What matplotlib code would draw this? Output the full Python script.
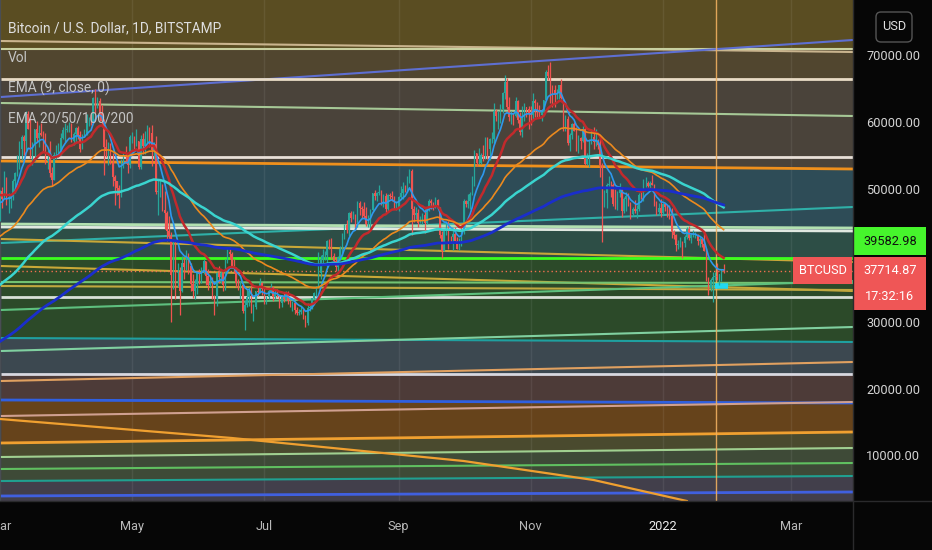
"""Bitcoin / U.S. Dollar daily chart with EMAs and drawn levels, TradingView style."""

import numpy as np
import pandas as pd
import matplotlib
matplotlib.use("Agg")
import matplotlib.pyplot as plt
import matplotlib.dates as mdates
from matplotlib import font_manager
from matplotlib.lines import Line2D
from matplotlib.patches import Rectangle, FancyBboxPatch
from matplotlib.transforms import IdentityTransform

# ---------------- candles (thousand USD), one list per month ----------------
month_starts = ["2021-03-01", "2021-04-01", "2021-05-01", "2021-06-01", "2021-07-01", "2021-08-01",
                "2021-09-01", "2021-10-01", "2021-11-01", "2021-12-01", "2022-01-01"]
first_open = 45.16

closes = [
    [49.6, 48.4, 50.4, 48.4, 48.8, 48.9, 51.2, 52.4, 54.9, 55.9, 57.8, 57.2, 61.2, 59.0, 55.6, 56.9,
     58.9, 57.6, 58.3, 58.1, 57.4, 54.1, 54.4, 52.3, 51.3, 55.1, 55.8, 55.8, 57.6, 58.8, 58.8],
    [59.0, 59.0, 57.1, 58.2, 59.1, 58.0, 56.0, 58.1, 58.1, 59.8, 59.9, 59.8, 63.6, 62.9, 63.2, 61.4,
     60.1, 56.2, 55.7, 56.5, 53.8, 51.7, 51.1, 50.1, 49.1, 54.0, 55.0, 54.8, 53.6, 57.7],
    [57.8, 56.6, 57.2, 53.2, 57.5, 56.4, 57.4, 58.9, 58.3, 55.8, 56.7, 49.5, 49.7, 49.9, 46.8, 46.4,
     43.6, 42.9, 37.0, 40.8, 37.3, 37.5, 34.7, 38.8, 38.3, 39.3, 38.4, 35.7, 34.6, 35.7, 37.3],
    [36.7, 37.6, 39.2, 36.9, 35.5, 35.8, 33.6, 33.4, 37.4, 36.7, 37.3, 35.5, 39.1, 40.5, 40.2, 38.3,
     38.1, 35.8, 35.5, 35.6, 31.7, 32.5, 33.7, 34.7, 31.6, 32.2, 34.7, 34.5, 35.9, 35.0],
    [33.5, 33.8, 34.7, 35.3, 33.7, 34.2, 33.8, 32.9, 33.8, 33.5, 34.3, 33.1, 32.7, 32.8, 31.8, 31.4,
     31.5, 31.8, 30.8, 29.8, 32.1, 32.3, 33.6, 34.3, 35.4, 37.3, 39.5, 40.0, 40.0, 42.2, 41.6],
    [39.9, 39.2, 38.2, 39.7, 40.9, 42.8, 44.6, 43.8, 46.3, 45.6, 45.6, 44.4, 47.8, 47.1, 47.0, 45.9,
     44.7, 44.7, 46.8, 49.3, 48.9, 49.3, 49.5, 47.7, 48.9, 47.0, 49.1, 48.9, 48.8, 47.0, 47.1],
    [48.8, 49.3, 50.0, 49.9, 51.8, 52.7, 46.9, 46.1, 46.4, 44.9, 45.2, 46.1, 44.9, 47.1, 48.2, 47.8,
     47.3, 48.3, 47.3, 43.0, 40.7, 43.6, 44.9, 42.8, 42.7, 43.2, 42.2, 41.0, 41.5, 43.8],
    [48.1, 47.7, 48.2, 49.2, 51.5, 55.3, 53.8, 53.9, 55.0, 54.7, 57.5, 56.0, 57.4, 57.4, 61.7, 60.9,
     61.5, 62.0, 64.3, 66.0, 62.2, 60.7, 61.3, 60.9, 63.1, 60.3, 58.5, 60.6, 62.3, 61.9, 61.3],
    [61.0, 63.2, 62.9, 61.4, 61.0, 61.5, 63.3, 67.5, 66.9, 64.9, 64.8, 64.2, 64.4, 65.5, 63.6, 60.2,
     60.4, 56.9, 58.1, 59.7, 58.7, 56.3, 57.6, 57.2, 58.9, 53.7, 54.8, 57.3, 57.8, 57.0],
    [57.2, 56.5, 53.6, 49.2, 49.4, 50.6, 50.6, 50.5, 47.7, 47.2, 49.4, 50.1, 46.7, 48.4, 48.9, 47.6,
     46.2, 46.9, 46.7, 46.9, 49.0, 48.6, 50.8, 50.8, 50.4, 50.8, 50.6, 47.6, 46.5, 47.1, 46.3],
    [47.7, 47.3, 46.4, 45.9, 43.5, 43.1, 41.5, 41.7, 41.9, 41.8, 42.7, 43.9, 42.6, 43.1, 43.1, 43.1,
     42.2, 42.4, 41.7, 40.7, 36.5, 35.1, 36.3, 36.7, 36.9, 36.8, 37.2, 37.8, 37.71487],
]
highs = [
    [49.8, 50.3, 52.6, 51.7, 49.4, 49.2, 51.4, 52.5, 55.1, 57.2, 58.1, 58.0, 61.6, 61.7, 60.6, 57.0,
     59.0, 60.1, 59.5, 59.8, 58.6, 58.4, 55.8, 57.2, 53.2, 55.5, 56.6, 56.9, 58.3, 59.2, 59.8],
    [59.5, 60.0, 59.8, 58.5, 59.3, 59.4, 58.6, 58.2, 58.9, 61.2, 60.7, 61.2, 63.8, 64.9, 63.8, 63.6,
     62.5, 60.4, 57.5, 57.0, 56.8, 55.4, 52.1, 51.2, 50.6, 54.4, 55.5, 56.4, 55.1, 58.0],
    [58.5, 57.9, 58.9, 57.2, 58.0, 58.4, 58.7, 59.5, 59.2, 59.6, 57.0, 57.9, 51.3, 51.5, 50.7, 49.7,
     46.6, 45.9, 43.5, 42.5, 42.2, 38.8, 38.2, 39.9, 39.8, 40.8, 40.4, 38.9, 37.2, 36.4, 37.5],
    [37.9, 38.2, 39.5, 39.2, 37.9, 36.8, 36.8, 34.0, 37.5, 38.4, 37.7, 37.5, 39.4, 41.0, 41.3, 40.5,
     39.5, 38.2, 36.5, 36.1, 35.7, 33.3, 34.9, 35.3, 35.5, 32.7, 34.7, 35.3, 36.6, 36.0],
    [35.0, 33.9, 34.9, 35.9, 35.3, 35.0, 35.0, 33.9, 34.1, 34.3, 34.6, 34.6, 33.3, 33.1, 33.2, 32.2,
     31.9, 32.4, 31.9, 31.0, 32.8, 32.6, 33.6, 34.5, 35.4, 40.5, 40.0, 40.9, 40.6, 42.3, 42.4],
    [42.6, 40.4, 39.8, 39.9, 41.4, 43.4, 44.7, 45.3, 46.5, 46.7, 46.7, 46.2, 48.1, 48.1, 47.4, 48.0,
     47.2, 46.0, 47.0, 49.4, 49.8, 49.5, 50.5, 49.8, 49.2, 49.3, 49.2, 49.3, 49.6, 48.9, 48.2],
    [48.9, 50.4, 51.0, 50.6, 51.9, 52.9, 52.9, 47.4, 47.3, 47.0, 45.9, 46.4, 46.9, 47.2, 48.5, 48.5,
     48.0, 48.8, 48.4, 47.3, 43.6, 44.0, 45.0, 45.1, 42.9, 44.0, 44.3, 42.8, 42.6, 44.1],
    [48.5, 48.3, 49.2, 49.5, 51.9, 55.8, 55.3, 56.1, 55.4, 56.5, 57.8, 57.7, 57.6, 58.5, 62.9, 62.0,
     61.7, 62.7, 64.5, 67.0, 66.6, 63.7, 61.7, 61.4, 63.7, 63.3, 61.5, 62.4, 62.9, 62.3, 62.4],
    [62.4, 64.3, 63.5, 63.0, 62.6, 61.6, 63.3, 67.8, 68.5, 69.0, 65.6, 65.5, 65.0, 65.6, 66.4, 63.6,
     61.0, 60.9, 58.4, 59.9, 60.0, 59.3, 58.0, 57.8, 59.4, 59.1, 55.3, 57.5, 58.9, 59.2],
    [59.0, 57.5, 57.6, 53.9, 49.8, 50.9, 51.9, 51.2, 50.8, 50.0, 49.6, 50.8, 50.2, 48.7, 49.5, 49.4,
     48.0, 47.3, 48.3, 47.5, 49.3, 49.6, 51.4, 51.8, 51.2, 51.2, 52.0, 50.7, 48.1, 47.9, 48.5],
    [47.9, 47.9, 47.6, 47.5, 47.1, 43.8, 43.2, 42.3, 42.8, 42.2, 43.0, 44.3, 44.4, 43.4, 43.8, 43.5,
     43.2, 42.7, 42.5, 43.4, 41.1, 36.8, 36.6, 37.5, 37.5, 38.9, 37.2, 38.0, 38.7],
]
lows = [
    [45.1, 47.1, 48.4, 47.5, 46.3, 47.1, 48.3, 49.3, 51.9, 53.0, 54.3, 55.1, 55.8, 58.9, 54.6, 53.6,
     54.2, 57.0, 56.3, 57.9, 55.5, 53.7, 53.0, 51.7, 50.4, 51.3, 54.5, 54.8, 55.0, 57.4, 57.0],
    [58.5, 58.5, 57.0, 56.5, 57.0, 57.5, 55.5, 56.0, 57.7, 58.1, 59.4, 59.5, 59.8, 61.3, 62.1, 60.2,
     59.7, 52.0, 54.8, 53.5, 53.7, 50.4, 47.5, 49.0, 47.1, 48.8, 53.1, 53.9, 52.4, 53.1],
    [56.9, 56.0, 56.4, 53.0, 52.9, 55.2, 55.2, 56.9, 56.2, 53.4, 54.4, 49.2, 46.0, 48.8, 46.6, 43.9,
     42.1, 42.3, 30.0, 35.0, 33.5, 35.2, 31.1, 34.5, 36.4, 37.8, 37.2, 34.7, 33.6, 33.4, 34.2],
    [35.7, 35.9, 37.2, 35.6, 34.8, 35.3, 33.4, 31.0, 32.4, 35.8, 35.9, 34.7, 34.8, 38.8, 39.5, 38.1,
     37.4, 35.2, 34.8, 33.4, 31.3, 28.8, 32.3, 32.4, 31.3, 30.2, 32.0, 33.9, 34.3, 34.0],
    [32.7, 32.7, 33.4, 34.4, 33.2, 33.5, 33.7, 32.1, 32.2, 33.0, 33.3, 32.7, 32.2, 31.6, 31.2, 31.0,
     31.1, 31.2, 30.5, 29.3, 29.5, 31.7, 32.0, 33.4, 33.9, 35.2, 36.5, 38.7, 39.3, 38.3, 41.0],
    [39.4, 38.7, 37.6, 37.5, 39.3, 39.9, 42.5, 43.3, 42.9, 45.0, 45.4, 43.8, 44.2, 46.0, 45.6, 45.6,
     44.4, 44.2, 43.9, 46.7, 48.3, 48.2, 49.0, 47.6, 47.2, 46.4, 46.5, 48.5, 48.2, 46.9, 46.8],
    [46.6, 48.6, 48.4, 49.5, 49.5, 50.9, 43.0, 45.0, 45.5, 44.2, 44.8, 44.7, 43.4, 44.7, 46.7, 47.0,
     46.8, 47.1, 47.0, 42.6, 39.6, 40.6, 43.1, 40.9, 41.9, 40.8, 42.1, 40.9, 40.8, 41.4],
    [43.2, 47.3, 47.1, 46.9, 49.1, 50.4, 53.4, 53.7, 53.7, 54.1, 54.5, 54.5, 54.3, 56.9, 56.9, 60.1,
     58.9, 59.9, 61.3, 63.5, 62.0, 60.1, 59.7, 59.5, 60.7, 59.9, 58.1, 57.8, 60.2, 60.7, 59.0],
    [59.5, 60.1, 60.7, 60.7, 60.7, 60.1, 61.4, 63.3, 66.3, 62.8, 62.3, 62.3, 63.5, 63.4, 63.4, 58.6,
     58.6, 56.5, 55.6, 57.5, 58.6, 55.7, 55.4, 55.9, 57.0, 53.6, 53.6, 53.3, 56.7, 55.9],
    [56.4, 55.9, 51.7, 42.0, 47.3, 47.1, 50.2, 48.7, 47.4, 46.9, 46.8, 48.8, 45.7, 46.4, 46.6, 47.4,
     45.5, 45.9, 46.4, 45.6, 46.6, 48.4, 48.1, 50.3, 50.2, 50.1, 50.5, 47.4, 46.1, 46.0, 45.7],
    [46.2, 46.7, 45.7, 45.5, 42.6, 42.5, 40.6, 41.0, 41.2, 39.6, 41.3, 42.5, 42.3, 41.8, 42.7, 42.6,
     41.5, 41.3, 41.2, 40.6, 36.2, 34.0, 34.6, 33.0, 36.3, 36.3, 35.6, 36.2, 37.3],
]

# EMA settings, seeded with the values read at the left edge of the chart
ema_periods = [9, 20, 50, 100, 200]
ema_seeds = [47500, 49000, 42600, 35300, 26850]
ema_colors = ["#2e98ee", "#c22a2c", "#ec8a1e", "#3ad4cf", "#1a2ecc"]
ema_widths = [1.2, 1.8, 1.2, 1.8, 2.0]

# ---------------- drawn levels (price at left edge, price at right edge) ----------------
band_low_left = [70950, 66450, 54150, 44250, 39583, 27600, 22200, 18300, 11850, 9750, 6150, 0]
band_low_right = [70950, 66450, 52950, 43650, 39583, 27000, 22200, 17850, 13500, 11100, 6900, 0]
band_colors = ["#5a4d22", "#51462f", "#4a433a", "#2e4c57", "#2d4e46", "#2c4a29",
               "#3c4850", "#4d3b38", "#66431b", "#4a4a2e", "#3e4a37", "#423f4b"]

line_left = [72150, 70950, 63750, 66450, 62850, 54750, 54150, 41850, 44700, 44250, 42450, 39583,
             38400, 36000, 35400, 33750, 31800, 27600, 25650, 22200, 21150, 18300, 15900,
             11850, 9750, 7950, 6150, 3900]
line_right = [70500, 70950, 72300, 66450, 60900, 54750, 52950, 47250, 44100, 43650, 39000, 39583,
              34650, 35850, 34800, 33750, 36150, 27000, 29250, 22200, 24000, 17850, 18000,
              13500, 11100, 8850, 6900, 4500]
line_colors = ["#c9b48e", "#c8d0a0", "#5e6fd2", "#e9dcc6", "#a6c896", "#e8e0d8", "#f0901c", "#2fb0a8",
               "#b2e0b0", "#e0e8e0", "#c8a838", "#3cff1e", "#c8a838", "#72c272", "#c0a840", "#d8e0d8",
               "#5ec07e", "#1fa0a0", "#80d0a0", "#d8d8e0", "#e0a060", "#3060e0", "#d0a090",
               "#f0a030", "#a0d090", "#60c060", "#20a090", "#4060e0"]
line_widths = [1.5, 1.5, 1.5, 2, 1.5, 2, 2, 1.5, 2, 2, 1.5, 2, 1.5, 1.5, 1.5, 2,
               1.5, 1.5, 1.5, 2, 1.5, 2, 1.5, 2, 1.5, 1.5, 1.5, 2]

curve_dates = ["2021-03-01", "2021-06-16", "2021-10-01", "2021-11-30", "2022-01-12"]
curve_prices = [15450, 12600, 9150, 6300, 3150]

marker_dates = ["2022-01-25", "2022-01-31"]
marker_price = 35400

last_price = 37714.87
alert_price = 39582.98
countdown = "17:32:16"
vline_date = "2022-01-25 14:00"

view_start = "2021-03-01 10:00"
view_days = 393.3
y_min, y_max = 3150, 78300

x_tick_dates = ["2021-03-01", "2021-05-01", "2021-07-01", "2021-09-01", "2021-11-01", "2022-01-01", "2022-03-01"]
x_tick_labels = ["Mar", "May", "Jul", "Sep", "Nov", "2022", "Mar"]
y_ticks = [10000, 20000, 30000, 50000, 60000, 70000]

legend_lines = ["Bitcoin / U.S. Dollar, 1D, BITSTAMP", "Vol", "EMA (9, close, 0)", "EMA 20/50/100/200"]

W, H = 932, 550
PLOT_W, PLOT_H = 853, 501


def main():
    names = {f.name for f in font_manager.fontManager.ttflist}
    if "Liberation Sans Narrow" in names:
        font, fs, fs_leg = "Liberation Sans Narrow", 11.2, 11.6
    elif "Roboto" in names:
        font, fs, fs_leg = "Roboto", 9.2, 9.9
    else:
        font, fs, fs_leg = "DejaVu Sans", 8.2, 8.8
    plt.rcParams["font.family"] = [font, "DejaVu Sans"]

    # build candle arrays
    dates = []
    for start, month in zip(month_starts, closes):
        dates.extend(pd.date_range(start, periods=len(month), freq="D"))
    for c_m, h_m, l_m in zip(closes, highs, lows):
        assert len(c_m) == len(h_m) == len(l_m)
    c = np.array([v for m in closes for v in m]) * 1000
    h = np.array([v for m in highs for v in m]) * 1000
    l = np.array([v for m in lows for v in m]) * 1000
    o = np.concatenate([[first_open * 1000], c[:-1]])
    h = np.maximum(h, np.maximum(o, c))
    l = np.minimum(l, np.minimum(o, c))
    x = mdates.date2num(dates)
    up = c >= o
    col = np.where(up, "#26a69a", "#ef5350")

    fig = plt.figure(figsize=(W / 100, H / 100), dpi=100, facecolor="#060606")
    ax = fig.add_axes([0, 1 - PLOT_H / H, PLOT_W / W, PLOT_H / H])
    ax.set_facecolor("#3c4048")

    x0 = mdates.date2num(pd.Timestamp(view_start))
    x1 = x0 + view_days
    ax.set_xlim(x0, x1)
    ax.set_ylim(y_min, y_max)

    # background bands
    for i, colr in enumerate(band_colors):
        top_l = 90000 if i == 0 else band_low_left[i - 1]
        top_r = 90000 if i == 0 else band_low_right[i - 1]
        ax.fill_between([x0, x1], [band_low_left[i], band_low_right[i]], [top_l, top_r],
                        color=colr, lw=0, zorder=0.1)

    # vertical grid
    xt = mdates.date2num(pd.to_datetime(x_tick_dates))
    for t in xt:
        ax.axvline(t, color="white", alpha=0.07, lw=1, zorder=0.5)

    # drawn levels
    for yl, yr, colr, lw in zip(line_left, line_right, line_colors, line_widths):
        ax.plot([x0, x1], [yl, yr], color=colr, lw=lw, zorder=2, solid_capstyle="butt")
    ax.plot(mdates.date2num(pd.to_datetime(curve_dates)), curve_prices, color="#f0a030", lw=1.6, zorder=2)
    ax.plot(mdates.date2num(pd.to_datetime(marker_dates)), [marker_price] * 2, color="#22d8f0",
            lw=4, zorder=2.5, solid_capstyle="butt")
    ax.axvline(mdates.date2num(pd.Timestamp(vline_date)), color="#f0b060", lw=1, alpha=0.9, zorder=2.2)
    ax.plot([x0, x1], [last_price] * 2, color="#f07050", lw=1, ls=(0, (1, 2)), zorder=2.3)

    # candles
    ax.vlines(x, l, h, colors=col, lw=0.9, zorder=3)
    ax.bar(x, np.maximum(np.abs(c - o), 60), bottom=np.minimum(o, c), width=0.62,
           color=col, lw=0, zorder=3)

    # moving averages
    for n, seed, colr, lw in zip(ema_periods, ema_seeds, ema_colors, ema_widths):
        ema = pd.Series(np.concatenate([[seed], c])).ewm(span=n, adjust=False).mean().to_numpy()[1:]
        ax.plot(x, ema, color=colr, lw=lw, zorder=4)

    # axes styling
    for s in ax.spines.values():
        s.set_visible(False)
    ax.yaxis.tick_right()
    ax.set_yticks(y_ticks)
    ax.set_yticklabels([f"{v:.2f}" for v in y_ticks])
    ax.tick_params(axis="y", length=0, pad=9.4, labelcolor="#d4d4d4", labelsize=fs)
    ax.set_xticks(xt)
    ax.set_xticklabels(x_tick_labels)
    ax.tick_params(axis="x", length=0, pad=14, labelcolor="#b8b8b8", labelsize=fs)
    ax.get_xticklabels()[5].set_color("#ececec")

    # separators
    fig.add_artist(Line2D([PLOT_W / W] * 2, [0, 1], transform=fig.transFigure, color="#2a2a2c", lw=1))
    fig.add_artist(Line2D([0, 1], [1 - PLOT_H / H] * 2, transform=fig.transFigure, color="#2a2a2c", lw=1))

    # legend texts
    for i, txt in enumerate(legend_lines):
        fig.text(8 / W, 1 - (28 + 30.3 * i) / H, txt, color="#dedede" if i == 0 else "#c4c4c4",
                 fontsize=fs_leg, va="center", ha="left")

    # USD box
    fig.add_artist(FancyBboxPatch((876, H - 42), 36, 30, boxstyle="round,pad=0,rounding_size=5",
                                  transform=IdentityTransform(), facecolor="none",
                                  edgecolor="#555555", lw=1))
    fig.text(894 / W, 1 - 27 / H, "USD", color="#e0e0e0", fontsize=fs, ha="center", va="center")

    # price labels on the scale
    yt = ax.get_yaxis_transform()
    px = 150.0  # price per pixel
    ax_w = float(PLOT_W)

    def box(x_left, x_right, y_top, height, color):
        ax.add_patch(Rectangle((x_left / ax_w, y_top - height * px), (x_right - x_left) / ax_w, height * px,
                               transform=yt, facecolor=color, edgecolor="none", clip_on=False, zorder=6))

    alert_top = alert_price + 31 * px
    box(853, 926, alert_top, 28, "#46f52c")
    ax.text(890 / ax_w, alert_top - 14 * px, f"{alert_price:.2f}", transform=yt, color="#101010",
            fontsize=fs, ha="center", va="center", clip_on=False, zorder=7)

    red_top = last_price + 13.5 * px
    box(853, 926, red_top, 53, "#ef5656")
    ax.text(890 / ax_w, last_price, f"{last_price:.2f}", transform=yt, color="white",
            fontsize=fs, ha="center", va="center", clip_on=False, zorder=7)
    ax.text(890 / ax_w, last_price - 26 * px, countdown, transform=yt, color="white",
            fontsize=fs, ha="center", va="center", clip_on=False, zorder=7)

    box(793, 852, red_top, 27, "#ef5656")
    ax.text(822.5 / ax_w, last_price, "BTCUSD", transform=yt, color="white",
            fontsize=fs, ha="center", va="center", clip_on=False, zorder=7)

    fig.savefig("out.png", dpi=100, facecolor=fig.get_facecolor())


if __name__ == "__main__":
    main()
